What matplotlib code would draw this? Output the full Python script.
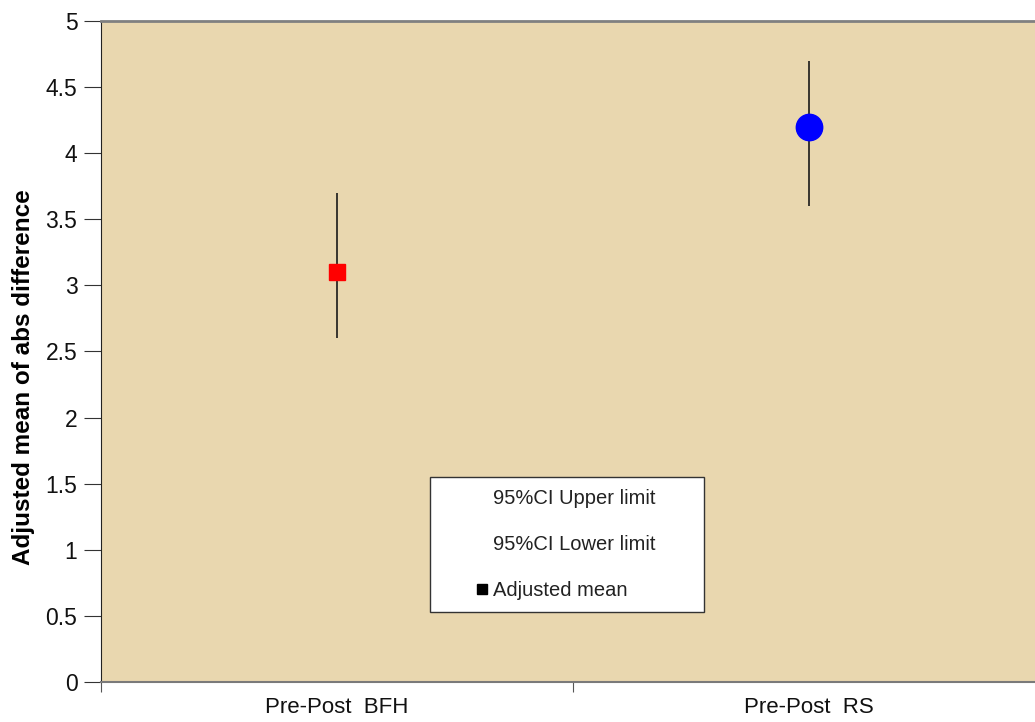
import numpy as np
import matplotlib
matplotlib.use('Agg')
import matplotlib.pyplot as plt
from matplotlib.lines import Line2D
from matplotlib.patches import Rectangle

plt.rcParams['font.family'] = ['Liberation Sans', 'DejaVu Sans']

categories = ['Pre-Post  BFH', 'Pre-Post  RS']
adj_mean = [3.1, 4.2]
ci_upper = [3.7, 4.7]
ci_lower = [2.6, 3.6]
colors = ['#ff0000', '#0000ff']
markers = ['s', 'o']
sizes = [12, 19]

fig = plt.figure(figsize=(10.35, 7.22), dpi=100)
ax = fig.add_axes([101 / 1035, 1 - 682 / 722, 944 / 1035, 661 / 722])
ax.set_facecolor('#e9d7af')

x = np.arange(len(categories))
for i in x:
    ax.vlines(i, ci_lower[i], ci_upper[i], color='#1a1a1a', lw=1.2, zorder=2)
    ax.plot(i, adj_mean[i], marker=markers[i], color=colors[i],
            markersize=sizes[i], linestyle='none', zorder=3)

ax.set_xlim(-0.5, 1.5)
ax.set_ylim(0, 5)
ax.set_yticks(np.arange(0, 5.01, 0.5))
ax.set_yticklabels(['0', '0.5', '1', '1.5', '2', '2.5', '3', '3.5', '4', '4.5', '5'])
ax.set_xticks([-0.5, 0.5, 1.5])
ax.set_xticklabels([])
ax.set_xticks(x, minor=True)
ax.set_xticklabels(categories, minor=True)
ax.tick_params(axis='x', which='minor', length=0, pad=11, labelsize=16, labelcolor='#111111')
ax.tick_params(axis='x', which='major', length=7, direction='out', color='#555555')
ax.tick_params(axis='y', length=12, direction='out', labelsize=16.5, pad=5,
               color='#333333', labelcolor='#111111')

ax.set_ylabel('Adjusted mean of abs difference', fontsize=17.5, fontweight='bold')
ax.yaxis.set_label_coords(-0.07, 0.461)

ax.spines['left'].set_color('#222222')
ax.spines['bottom'].set_color('#7a7a7a')
ax.spines['bottom'].set_linewidth(1.5)
ax.spines['top'].set_color('#808080')
ax.spines['top'].set_linewidth(2)
ax.spines['right'].set_visible(False)

# legend frame, wider than its content as in the original
ax.add_patch(Rectangle((329 / 944, 70 / 661), 274 / 944, 135 / 661,
                       transform=ax.transAxes, facecolor='white',
                       edgecolor='#333333', lw=1.0, zorder=4))

handles = [
    Line2D([], [], linestyle='none', marker=None, color='none'),
    Line2D([], [], linestyle='none', marker=None, color='none'),
    Line2D([], [], linestyle='none', marker='s', color='black', markersize=7),
]
labels = ['95%CI Upper limit', '95%CI Lower limit', 'Adjusted mean']
leg = ax.legend(handles, labels, loc='upper left',
                bbox_to_anchor=((476 - 101) / 944, (682 - 489) / 661),
                fontsize=14.5, frameon=False, borderpad=0, labelspacing=1.35,
                handlelength=0.6, handletextpad=0.25, borderaxespad=0)
leg.set_zorder(5)
for t in leg.get_texts():
    t.set_color('#222222')

fig.savefig('out.png', dpi=100)
